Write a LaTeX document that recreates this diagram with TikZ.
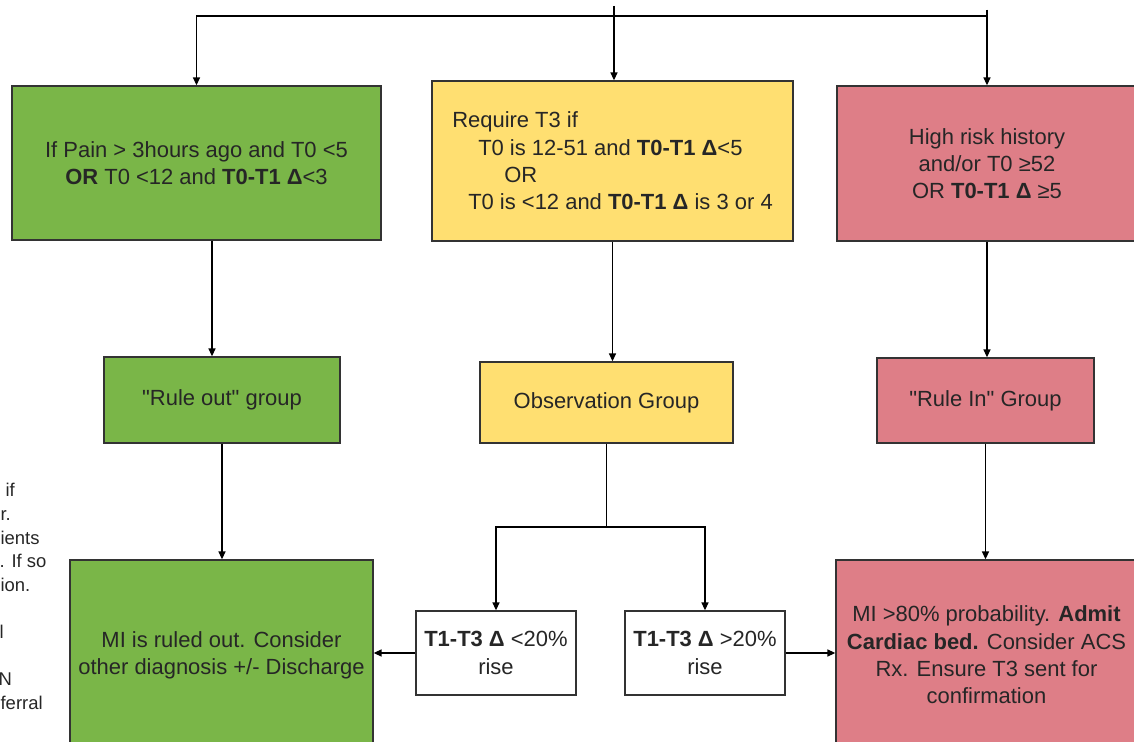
\documentclass[tikz,border=0pt]{standalone}
\usepackage{fontspec}
\setmainfont{Liberation Sans}[Ligatures=TeXOff]
\usetikzlibrary{arrows.meta}
\definecolor{outgreen}{HTML}{7AB648}
\definecolor{obsyellow}{HTML}{FFDF71}
\definecolor{inred}{HTML}{DE7E87}

\begin{document}
\begin{tikzpicture}[x=0.02cm,y=-0.02cm,line width=0.7pt,
  box/.style={draw=black!80,line width=0.8pt,align=center,inner sep=0pt,text=black!85,font=\fontsize{12.5}{15.5}\selectfont},
  greenbox/.style={box,fill=outgreen},
  yellowbox/.style={box,fill=obsyellow},
  redbox/.style={box,fill=inred},
  whitebox/.style={box,fill=white},
  arr/.style={-{Triangle[length=4.5pt,width=4pt]}},
  cut/.style={anchor=base west,inner sep=0pt,text=black!85,font=\fontsize{10.5}{12}\selectfont}]
  \useasboundingbox (0,0) rectangle (1134,742);

  % top row
  \node[greenbox,minimum width=7.38cm,minimum height=3.08cm] (G1) at (196.5,163) {If Pain > 3hours ago and T0 <5\\ \textbf{OR} T0 <12 and \textbf{T0-T1 Δ}<3};
  \node[yellowbox,align=left,minimum width=7.22cm,minimum height=3.2cm] (Y1) at (612.5,161) {Require T3 if\\ \hspace*{0.52cm}T0 is 12-51 and \textbf{T0-T1 Δ}<5\\ \hspace*{1.04cm}OR\\ \hspace*{0.32cm}T0 is <12 and \textbf{T0-T1 Δ} is 3 or 4};
  \node[redbox,minimum width=6cm,minimum height=3.1cm] (R1) at (987,163.5) {High risk history\\ and/or T0 ≥52\\ OR \textbf{T0-T1 Δ} ≥5};

  % groups
  \node[greenbox,minimum width=4.72cm,minimum height=1.72cm] (G2) at (222,400) {"Rule out" group};
  \node[yellowbox,minimum width=5.06cm,minimum height=1.62cm] (Y2) at (606.5,402.5) {Observation Group};
  \node[redbox,minimum width=4.34cm,minimum height=1.7cm] (R2) at (985.5,400.5) {"Rule In" Group};

  % outcomes
  \node[greenbox,minimum width=6.06cm,minimum height=3.8cm] (G3) at (221.5,655) {MI is ruled out. Consider\\ other diagnosis +/- Discharge};
  \node[redbox,minimum width=6.02cm,minimum height=3.8cm] (R3) at (986.5,655) {MI >80\% probability. \textbf{Admit}\\ \textbf{Cardiac bed.} Consider ACS\\ Rx. Ensure T3 sent for\\ confirmation};
  \node[whitebox,minimum width=3.2cm,minimum height=1.68cm] (B1) at (496,653) {\textbf{T1-T3 Δ} <20\%\\ rise};
  \node[whitebox,minimum width=3.2cm,minimum height=1.68cm] (B2) at (705,653) {\textbf{T1-T3 Δ} >20\%\\ rise};

  % text cut off at the left edge
  \node[cut] (f1) at (5,497) {if};
  \node[cut] (f2) at (0,521) {r.};
  \node[cut] (f3) at (0,545) {ients};
  \node[cut] (f4) at (-1,568) {. If so};
  \node[cut] (f5) at (0,592) {ion.};
  \node[cut] (f6) at (-1,639) {l};
  \node[cut] (f7) at (-2,686) {N};
  \node[cut] (f8) at (0,710) {ferral};

  % connectors
  \coordinate (topin) at (614,6);
  \coordinate (split) at (614,16);
  \coordinate (rtop) at (987,10);
  \coordinate (fork) at (606.5,527);
  \draw[arr] (topin) -- (topin |- Y1.north);
  \draw[arr] (split) -| (G1.north);
  \draw (split) -- (split -| R1.north);
  \draw[line width=1.3pt] (rtop) -- ++(0,35);
  \draw[arr] (rtop) -- (R1.north);
  \draw[arr] ([xshift=-0.2cm]G2.north |- G1.south) -- ([xshift=-0.2cm]G2.north);
  \draw[arr] (Y1.south) -- (Y1.south |- Y2.north);
  \draw[arr] (R1.south) -- (R1.south |- R2.north);
  \draw[arr] (G2.south) -- (G2.south |- G3.north);
  \draw[arr] (R2.south) -- (R2.south |- R3.north);
  \draw (Y2.south) -- (fork);
  \draw[arr] (fork) -| (B1.north);
  \draw[arr] (fork) -| (B2.north);
  \draw[arr] (B1.west) -- (G3.east |- B1.west);
  \draw[arr] (B2.east) -- (R3.west |- B2.east);
\end{tikzpicture}
\end{document}
